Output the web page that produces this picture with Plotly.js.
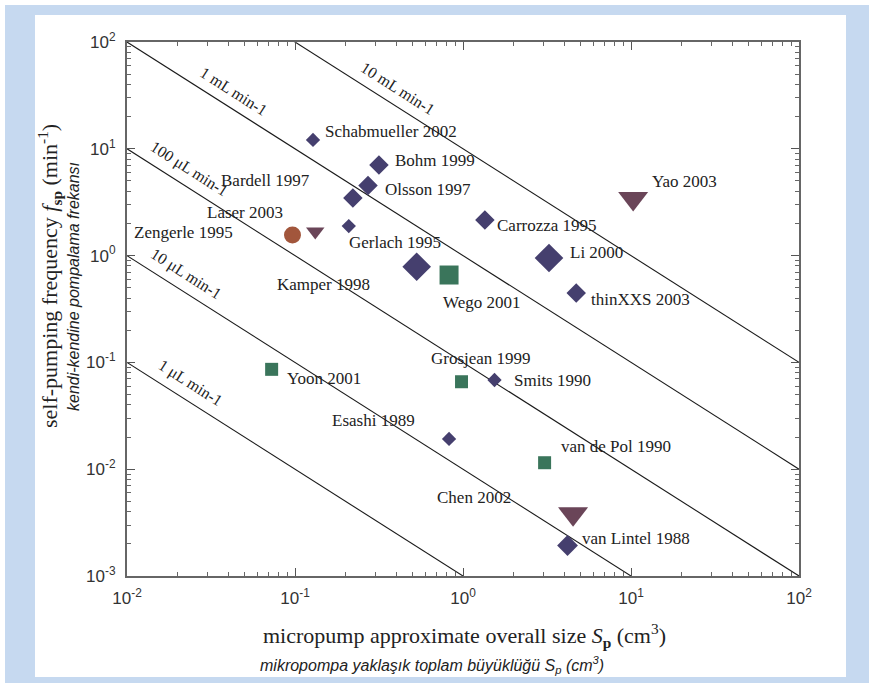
<!DOCTYPE html>
<html>
<head>
<meta charset="utf-8">
<script src="https://cdn.plot.ly/plotly-3.0.1.min.js"></script>
<style>
  html, body { margin: 0; padding: 0; background: #ffffff; }
  #frame { position: absolute; left: 5px; top: 5px; width: 864px; height: 678px; background: #c6d9f0; }
  #chart { position: absolute; left: 35px; top: 15px; width: 811px; height: 662px; background: #ffffff; }
</style>
</head>
<body>
<div id="frame"></div>
<div id="chart"></div>
<script>
// ---------------- DATA ----------------
// Diamond-marked pumps
const diamondNames = ["Schabmueller 2002", "Bohm 1999", "Olsson 1997", "Bardell 1997", "Gerlach 1995",
  "Kamper 1998", "Carrozza 1995", "Li 2000", "thinXXS 2003", "Smits 1990", "Esashi 1989", "van Lintel 1988"];
const diamondSize = [0.128, 0.316, 0.272, 0.221, 0.209, 0.53, 1.35, 3.25, 4.72, 1.54, 0.826, 4.19];      // S_p (cm^3)
const diamondFreq = [12.1, 7.05, 4.53, 3.46, 1.89, 0.787, 2.15, 0.95, 0.447, 0.0684, 0.0192, 0.00193];  // f_sp (1/min)

// Square-marked pumps
const squareNames = ["Wego 2001", "Yoon 2001", "Grosjean 1999", "van de Pol 1990"];
const squareSize = [0.826, 0.0726, 0.98, 3.06];
const squareFreq = [0.658, 0.0861, 0.0659, 0.0115];

// Triangle-marked pumps
const triangleNames = ["Zengerle 1995", "Yao 2003", "Chen 2002"];
const triangleSize = [0.132, 10.3, 4.52];
const triangleFreq = [1.68, 3.42, 0.00382];

// Circle-marked pumps
const circleNames = ["Laser 2003"];
const circleSize = [0.0966];
const circleFreq = [1.56];

// Constant flow-rate lines (mL/min): f = Q / S
const flowRates = [0.001, 0.01, 0.1, 1, 10];
const flowLabels = ["1 μL min-1", "10 μL min-1", "100 μL min-1", "1 mL min-1", "10 mL min-1"];

// Axis ticks
const xTickVals = [0.01, 0.1, 1, 10, 100];
const xTickText = ["10<sup>-2</sup>", "10<sup>-1</sup>", "10<sup>0</sup>", "10<sup>1</sup>", "10<sup>2</sup>"];
const yTickVals = [0.001, 0.01, 0.1, 1, 10, 100];
const yTickText = ["10<sup>-3</sup>", "10<sup>-2</sup>", "10<sup>-1</sup>", "10<sup>0</sup>", "10<sup>1</sup>", "10<sup>2</sup>"];

// ---------------- STYLE / LAYOUT HELPERS ----------------
const markerPx = {
  "Schabmueller 2002": 11, "Bohm 1999": 15, "Olsson 1997": 15, "Bardell 1997": 15, "Gerlach 1995": 11,
  "Kamper 1998": 22, "Carrozza 1995": 15, "Li 2000": 22, "thinXXS 2003": 15, "Smits 1990": 11,
  "Esashi 1989": 11, "van Lintel 1988": 16,
  "Wego 2001": 19, "Yoon 2001": 13, "Grosjean 1999": 13, "van de Pol 1990": 13,
  "Zengerle 1995": 16, "Yao 2003": 26, "Chen 2002": 26,
  "Laser 2003": 17
};
// [xanchor, dx(px), dy(px, down positive)] relative to the marker
const labelPlace = {
  "Schabmueller 2002": ["left", 10, -8], "Bohm 1999": ["left", 14, -5], "Olsson 1997": ["left", 15, 4],
  "Bardell 1997": ["right", -41, -18], "Laser 2003": ["right", -7, -22], "Zengerle 1995": ["right", -80, 1],
  "Gerlach 1995": ["left", -2, 16], "Kamper 1998": ["right", -45, 18], "Wego 2001": ["left", -8, 27],
  "Carrozza 1995": ["left", 10, 5], "Li 2000": ["left", 19, -5], "thinXXS 2003": ["left", 13, 7],
  "Yao 2003": ["left", 17, -17], "Yoon 2001": ["left", 13, 9], "Grosjean 1999": ["left", -33, -23],
  "Smits 1990": ["left", 17, 0], "Esashi 1989": ["right", -32, -18], "van de Pol 1990": ["left", 14, -16],
  "Chen 2002": ["right", -60, -16], "van Lintel 1988": ["left", 12, -7]
};
const flowLabelAt = [0.0237, 0.0224, 0.0234, 0.0434, 0.41];  // S position of each line label

// minor tick positions 2..9 within each decade
function minorTicks(lo, hi) {
  const out = [];
  for (let e = lo; e < hi; e++) for (let d = 2; d <= 9; d++) out.push(d * Math.pow(10, e));
  return out;
}

const SERIF = "'Liberation Serif', 'Times New Roman', serif";
const SANS = "'Liberation Sans', Arial, sans-serif";

const traces = [];
// flow-rate lines
flowRates.forEach(function (q) {
  const xs = [0.01, 100];
  traces.push({
    x: xs, y: xs.map(function (s) { return q / s; }),
    mode: "lines", type: "scatter", line: { color: "#1a1a1a", width: 1.1 },
    hoverinfo: "skip", showlegend: false
  });
});

function markerTrace(names, xs, ys, symbol, color) {
  return {
    x: xs, y: ys, text: names, mode: "markers", type: "scatter", showlegend: false,
    marker: { symbol: symbol, color: color, opacity: 1,
      size: names.map(function (n) { return markerPx[n]; }), line: { width: 0 } }
  };
}
traces.push(markerTrace(diamondNames, diamondSize, diamondFreq, "diamond", "#453f6e"));
traces.push(markerTrace(squareNames, squareSize, squareFreq, "square", "#3a755b"));
traces.push(markerTrace(triangleNames, triangleSize, triangleFreq, "triangle-down", "#6a4558"));
traces.push(markerTrace(circleNames, circleSize, circleFreq, "circle", "#a2563c"));

const annotations = [];
function addLabels(names, xs, ys) {
  names.forEach(function (n, i) {
    const p = labelPlace[n];
    annotations.push({
      x: Math.log10(xs[i]), y: Math.log10(ys[i]), xref: "x", yref: "y",
      text: n, showarrow: false, xanchor: p[0], yanchor: "middle",
      xshift: p[1], yshift: -p[2],
      font: { family: SERIF, size: 17, color: "#222222" }
    });
  });
}
addLabels(diamondNames, diamondSize, diamondFreq);
addLabels(squareNames, squareSize, squareFreq);
addLabels(triangleNames, triangleSize, triangleFreq);
addLabels(circleNames, circleSize, circleFreq);

flowRates.forEach(function (q, i) {
  const s = flowLabelAt[i];
  annotations.push({
    x: Math.log10(s), y: Math.log10(q / s), xref: "x", yref: "y",
    text: flowLabels[i], showarrow: false, textangle: 32.5,
    xanchor: "center", yanchor: "middle", yshift: 19,
    font: { family: SERIF, size: 16, color: "#222222" }
  });
});

// axis titles
annotations.push({
  xref: "paper", yref: "paper", x: 0, y: 0.5, xshift: -78, yshift: 33, textangle: -90,
  xanchor: "center", yanchor: "middle", showarrow: false,
  text: "self-pumping frequency <i>f</i><sub><b>sp</b></sub> (min<sup>-1</sup>)",
  font: { family: SERIF, size: 22, color: "#222222" }
});
annotations.push({
  xref: "paper", yref: "paper", x: 0, y: 0.5, xshift: -54, yshift: 22, textangle: -90,
  xanchor: "center", yanchor: "middle", showarrow: false,
  text: "<i>kendi-kendine pompalama frekansı</i>",
  font: { family: SANS, size: 16, color: "#222222" }
});
annotations.push({
  xref: "paper", yref: "paper", x: 0.5, y: 0, yshift: -59, xshift: 1,
  xanchor: "center", yanchor: "middle", showarrow: false,
  text: "micropump approximate overall size <i>S</i><sub><b>p</b></sub> (cm<sup>3</sup>)",
  font: { family: SERIF, size: 22, color: "#222222" }
});
annotations.push({
  xref: "paper", yref: "paper", x: 0.5, y: 0, yshift: -89, xshift: -31,
  xanchor: "center", yanchor: "middle", showarrow: false,
  text: "<i>mikropompa yaklaşık toplam büyüklüğü S<sub>p</sub> (cm<sup>3</sup>)</i>",
  font: { family: SANS, size: 16, color: "#222222" }
});

const axisCommon = {
  type: "log", showgrid: false, zeroline: false,
  showline: true, linecolor: "#666666", linewidth: 2, mirror: "allticks",
  ticks: "inside", ticklen: 8, tickwidth: 1, tickcolor: "#555555",
  tickfont: { family: SANS, size: 17, color: "#333333" }
};

const layout = {
  width: 811, height: 662,
  margin: { l: 92, r: 47, t: 27, b: 101 },
  paper_bgcolor: "#ffffff", plot_bgcolor: "#ffffff",
  showlegend: false,
  xaxis: Object.assign({}, axisCommon, {
    range: [-2, 2], tickmode: "array", tickvals: xTickVals, ticktext: xTickText, ticklabelstandoff: 6,
    minor: { tickmode: "array", tickvals: minorTicks(-2, 2), ticks: "inside", ticklen: 4, tickwidth: 1, tickcolor: "#666666", showgrid: false }
  }),
  yaxis: Object.assign({}, axisCommon, {
    range: [-3, 2], tickmode: "array", tickvals: yTickVals, ticktext: yTickText, ticklabelstandoff: 6,
    minor: { tickmode: "array", tickvals: minorTicks(-3, 2), ticks: "inside", ticklen: 4, tickwidth: 1, tickcolor: "#666666", showgrid: false }
  }),
  annotations: annotations
};

Plotly.newPlot("chart", traces, layout, { displayModeBar: false, staticPlot: true });
</script>
</body>
</html>
